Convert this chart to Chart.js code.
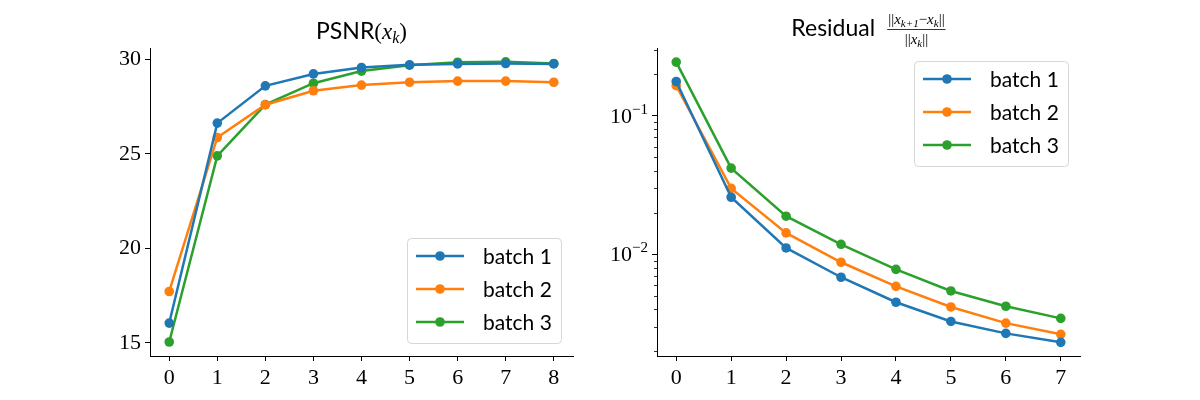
<!DOCTYPE html>
<html lang="en">
<head>
<meta charset="UTF-8">
<title>PSNR and residual per iteration</title>
<script src="https://cdn.jsdelivr.net/npm/chart.js"></script>
<style>
  * { box-sizing: border-box; margin: 0; padding: 0; }
  body { width: 1200px; height: 400px; background: #fff; position: relative; overflow: hidden; }
  .panel { position: absolute; top: 0; width: 600px; height: 400px; }
  #left { left: 0; }
  #right { left: 600px; }
</style>
</head>
<body>
<div class="panel" id="left"><canvas id="psnr" width="600" height="400"></canvas></div>
<div class="panel" id="right"><canvas id="resid" width="600" height="400"></canvas></div>

<script>
  // data
  const psnrIters = [0, 1, 2, 3, 4, 5, 6, 7, 8];
  const psnrBatch1 = [16.05, 26.62, 28.59, 29.22, 29.56, 29.70, 29.75, 29.77, 29.75];
  const psnrBatch2 = [17.72, 25.86, 27.59, 28.33, 28.63, 28.78, 28.84, 28.84, 28.78];
  const psnrBatch3 = [15.05, 24.89, 27.60, 28.73, 29.37, 29.68, 29.84, 29.86, 29.77];
  const psnrTicks = [15, 20, 25, 30];

  const residIters = [0, 1, 2, 3, 4, 5, 6, 7];
  const residBatch1 = [0.177, 0.0258, 0.0111, 0.00682, 0.0045, 0.00327, 0.00268, 0.00231];
  const residBatch2 = [0.165, 0.0299, 0.01426, 0.00875, 0.00586, 0.00416, 0.00318, 0.00264];
  const residBatch3 = [0.2443, 0.0419, 0.01883, 0.0118, 0.00778, 0.00543, 0.00421, 0.00344];
  const residMajorTicks = [0.01, 0.1];
  const residTickExponents = ['−2', '−1'];
  const residMinorTicks = [0.002, 0.003, 0.004, 0.005, 0.006, 0.007, 0.008, 0.009,
                           0.02, 0.03, 0.04, 0.05, 0.06, 0.07, 0.08, 0.09, 0.2, 0.3];

  const batchNames = ['batch 1', 'batch 2', 'batch 3'];
  const batchColors = ['#1f77b4', '#ff7f0e', '#2ca02c'];

  const SERIF = '"Liberation Serif", serif';
  const SANS = 'Lato, "DejaVu Sans", sans-serif';

  function makeDatasets(xs, series) {
    return series.map((vals, i) => ({
      label: batchNames[i],
      data: vals.map((v, j) => ({ x: xs[j], y: v })),
      borderColor: batchColors[i],
      backgroundColor: batchColors[i],
      pointBackgroundColor: batchColors[i],
      pointBorderWidth: 0,
      pointRadius: 4.8,
      borderWidth: 2.5,
      tension: 0
    }));
  }

  // mixed-font text helpers (for the math in the titles)
  function partsWidth(ctx, parts) {
    let w = 0;
    parts.forEach(p => { ctx.font = p.f; w += ctx.measureText(p.t).width; });
    return w;
  }
  function drawParts(ctx, parts, x, y) {
    ctx.textBaseline = 'alphabetic';
    ctx.textAlign = 'left';
    ctx.fillStyle = '#000';
    parts.forEach(p => {
      ctx.font = p.f;
      ctx.fillText(p.t, x, y + (p.dy || 0));
      x += ctx.measureText(p.t).width;
    });
    return x;
  }

  // legend box anchored inside the axes
  function legendPlugin(corner) {
    return {
      id: 'boxLegend',
      afterDraw(chart) {
        const ctx = chart.ctx, a = chart.chartArea;
        const w = 154, h = 105;
        const left = a.right - 12 - w;
        const top = corner === 'lower' ? a.bottom - 13 - h : a.top + 13;
        ctx.save();
        ctx.beginPath();
        ctx.roundRect(left + 0.5, top + 0.5, w, h, 4);
        ctx.fillStyle = 'rgba(255,255,255,0.8)';
        ctx.fill();
        ctx.strokeStyle = '#d6d6d6';
        ctx.lineWidth = 1;
        ctx.stroke();
        chart.data.datasets.forEach((ds, i) => {
          const y = top + 18 + i * 33;
          ctx.strokeStyle = ds.borderColor;
          ctx.lineWidth = 2.5;
          ctx.beginPath();
          ctx.moveTo(left + 9, y);
          ctx.lineTo(left + 57, y);
          ctx.stroke();
          ctx.fillStyle = ds.borderColor;
          ctx.beginPath();
          ctx.arc(left + 33, y, 4.8, 0, Math.PI * 2);
          ctx.fill();
          ctx.fillStyle = '#000';
          ctx.font = '21px ' + SANS;
          ctx.textBaseline = 'middle';
          ctx.textAlign = 'left';
          ctx.fillText(ds.label, left + 76, y + 1);
        });
        ctx.restore();
      }
    };
  }

  const psnrTitle = {
    id: 'psnrTitle',
    afterDraw(chart) {
      const ctx = chart.ctx, a = chart.chartArea;
      const parts = [
        { t: 'PSNR', f: '23px ' + SANS },
        { t: '(', f: '23px ' + SERIF },
        { t: 'x', f: 'italic 23px ' + SERIF },
        { t: 'k', f: 'italic 16px ' + SERIF, dy: 4 },
        { t: ')', f: '23px ' + SERIF }
      ];
      ctx.save();
      const w = partsWidth(ctx, parts);
      drawParts(ctx, parts, (a.left + a.right) / 2 - w / 2, 39);
      ctx.restore();
    }
  };

  const residTitle = {
    id: 'residTitle',
    afterDraw(chart) {
      const ctx = chart.ctx, a = chart.chartArea;
      const word = [{ t: 'Residual', f: '23px ' + SANS }];
      const num = [
        { t: '||', f: '15px ' + SERIF },
        { t: 'x', f: 'italic 15px ' + SERIF },
        { t: 'k+1', f: 'italic 11px ' + SERIF, dy: 3 },
        { t: '−', f: '15px ' + SERIF },
        { t: 'x', f: 'italic 15px ' + SERIF },
        { t: 'k', f: 'italic 11px ' + SERIF, dy: 3 },
        { t: '||', f: '15px ' + SERIF }
      ];
      const den = [
        { t: '||', f: '15px ' + SERIF },
        { t: 'x', f: 'italic 15px ' + SERIF },
        { t: 'k', f: 'italic 11px ' + SERIF, dy: 3 },
        { t: '||', f: '15px ' + SERIF }
      ];
      ctx.save();
      const ww = partsWidth(ctx, word), nw = partsWidth(ctx, num), dw = partsWidth(ctx, den);
      const fw = Math.max(nw, dw) + 2;
      const gap = 12;
      const total = ww + gap + fw;
      const x0 = (a.left + a.right) / 2 - total / 2;
      drawParts(ctx, word, x0, 36);
      const fx = x0 + ww + gap;
      drawParts(ctx, num, fx + (fw - nw) / 2, 24);
      drawParts(ctx, den, fx + (fw - dw) / 2, 44);
      ctx.strokeStyle = '#000';
      ctx.lineWidth = 0.8;
      ctx.beginPath();
      ctx.moveTo(fx, 29.5);
      ctx.lineTo(fx + fw, 29.5);
      ctx.stroke();
      ctx.restore();
    }
  };

  // minor ticks and power-of-ten labels on the log axis
  const logAxisDecor = {
    id: 'logAxisDecor',
    afterDraw(chart) {
      const ctx = chart.ctx, s = chart.scales.y;
      ctx.save();
      ctx.strokeStyle = '#000';
      ctx.lineWidth = 0.8;
      residMinorTicks.forEach(v => {
        const y = Math.round(s.getPixelForValue(v)) + 0.5;
        ctx.beginPath();
        ctx.moveTo(s.right - 3, y);
        ctx.lineTo(s.right, y);
        ctx.stroke();
      });
      residMajorTicks.forEach((v, i) => {
        const y = s.getPixelForValue(v);
        const parts = [
          { t: '10', f: '22px ' + SERIF },
          { t: residTickExponents[i], f: '15px ' + SERIF, dy: -9 }
        ];
        const w = partsWidth(ctx, parts);
        drawParts(ctx, parts, s.right - 9 - w, y + 7);
      });
      ctx.restore();
    }
  };

  function axisCommon() {
    return {
      grid: { display: true, drawOnChartArea: false, drawTicks: true, tickLength: 5, color: '#000', lineWidth: 1 },
      border: { display: true, color: '#000', width: 1 },
      ticks: { color: '#000', font: { family: SERIF, size: 22 }, padding: 4 }
    };
  }

  Chart.defaults.animation = false;

  // left: PSNR
  const lx = axisCommon(), ly = axisCommon();
  new Chart(document.getElementById('psnr'), {
    type: 'line',
    data: { datasets: makeDatasets(psnrIters, [psnrBatch1, psnrBatch2, psnrBatch3]) },
    options: {
      responsive: false,
      layout: { padding: { top: 48, right: 27, left: 0, bottom: 0 } },
      plugins: { legend: { display: false }, tooltip: { enabled: false }, title: { display: false } },
      scales: {
        x: Object.assign(lx, {
          type: 'linear', min: -0.4, max: 8.4,
          afterBuildTicks: s => { s.ticks = psnrIters.map(v => ({ value: v })); },
          afterFit: s => { s.height = 44; }
        }),
        y: Object.assign(ly, {
          type: 'linear', min: 14.31, max: 30.59,
          afterBuildTicks: s => { s.ticks = psnrTicks.map(v => ({ value: v })); },
          afterFit: s => { s.width = 150; }
        })
      }
    },
    plugins: [psnrTitle, legendPlugin('lower')]
  });

  // right: residual (log scale)
  const rx = axisCommon(), ry = axisCommon();
  ry.ticks.callback = () => '';
  new Chart(document.getElementById('resid'), {
    type: 'line',
    data: { datasets: makeDatasets(residIters, [residBatch1, residBatch2, residBatch3]) },
    options: {
      responsive: false,
      layout: { padding: { top: 48, right: 120, left: 0, bottom: 0 } },
      plugins: { legend: { display: false }, tooltip: { enabled: false }, title: { display: false } },
      scales: {
        x: Object.assign(rx, {
          type: 'linear', min: -0.35, max: 7.35,
          afterBuildTicks: s => { s.ticks = residIters.map(v => ({ value: v })); },
          afterFit: s => { s.height = 44; }
        }),
        y: Object.assign(ry, {
          type: 'logarithmic', min: 0.00184, max: 0.309,
          afterBuildTicks: s => { s.ticks = residMajorTicks.map(v => ({ value: v })); },
          afterFit: s => { s.width = 57; }
        })
      }
    },
    plugins: [residTitle, logAxisDecor, legendPlugin('upper')]
  });
</script>
</body>
</html>
